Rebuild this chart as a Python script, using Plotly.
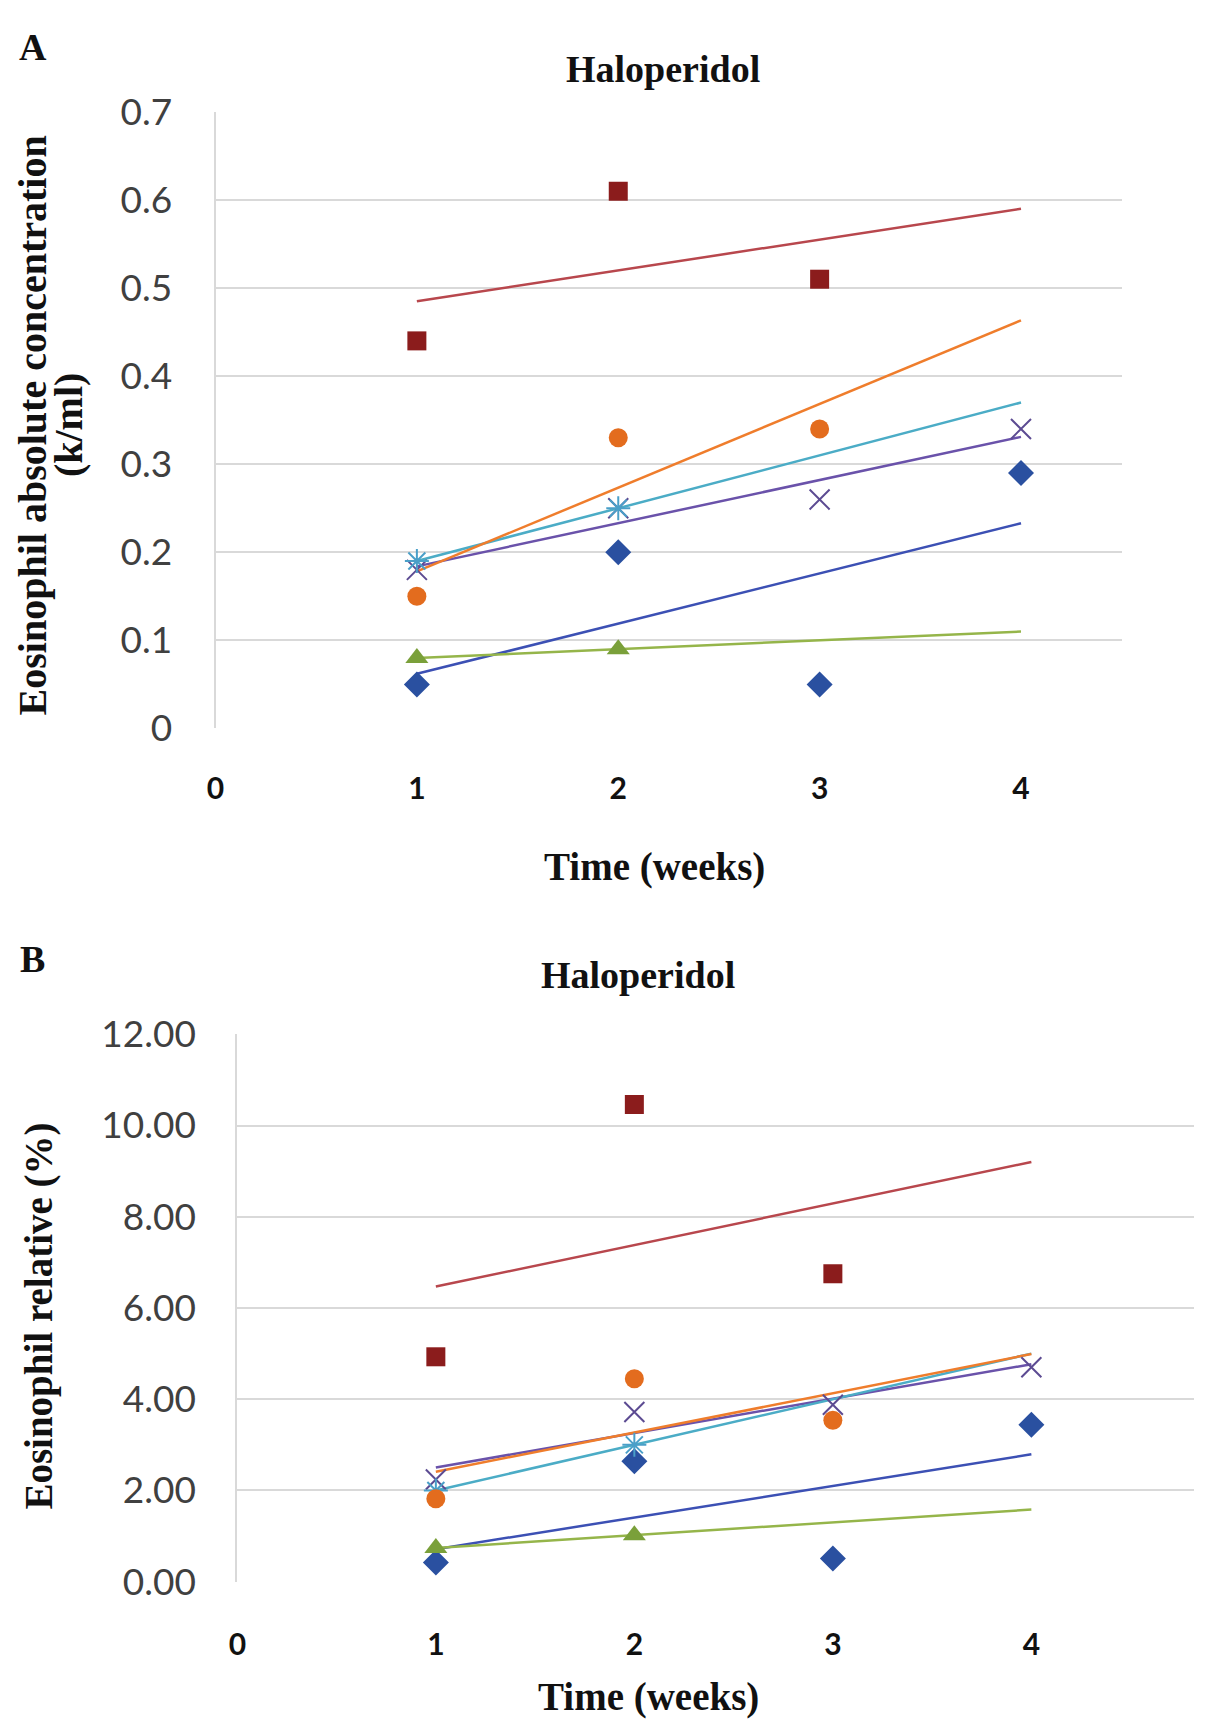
import numpy as np
import plotly.graph_objects as go

# ---------------- data ----------------
weeks = [1, 2, 3, 4]
x_ticks = [0, 1, 2, 3, 4]

# Panel A: absolute concentration (k/ml)
a_blue = [0.05, 0.20, 0.05, 0.29]
a_red = [0.44, 0.61, 0.51]
a_green = [0.08, 0.09]
a_purple = [0.18, 0.25, 0.26, 0.34]
a_cyan = [0.19, 0.25]
a_orange = [0.15, 0.33, 0.34]

# Panel B: relative (%)
b_blue = [0.42, 2.64, 0.51, 3.44]
b_red = [4.93, 10.46, 6.75]
b_green = [0.74, 1.02]
b_purple = [2.24, 3.72, 3.88, 4.70]
b_cyan = [2.0, 3.0]
b_orange = [1.82, 4.45, 3.54]

a_yticks = [0, 0.1, 0.2, 0.3, 0.4, 0.5, 0.6, 0.7]
b_yticks = [0, 2, 4, 6, 8, 10, 12]

# ---------------- styles ----------------
styles = {
    "blue":   dict(marker="#2a50a0", line="#3c50b4", symbol="diamond", size=20, open=False),
    "red":    dict(marker="#8b1c1c", line="#b8474d", symbol="square", size=19, open=False),
    "green":  dict(marker="#7aa03a", line="#95b54a", symbol="triangle-up", size=20, open=False),
    "purple": dict(marker="#5c4b92", line="#6a52aa", symbol="x-thin-open", size=20, open=True),
    "cyan":   dict(marker="#4a9fc8", line="#4bacc6", symbol="asterisk-open", size=20, open=True),
    "orange": dict(marker="#e36c1e", line="#ef7d2c", symbol="circle", size=19, open=False),
}

W, H = 1205, 1733
fig = go.Figure()


def add_panel(series, xa, ya):
    # linear trendlines (least squares over the available weeks, drawn weeks 1-4)
    for name, vals in series:
        st = styles[name]
        xs = weeks[:len(vals)]
        slope, icpt = np.polyfit(xs, vals, 1)
        tx = [weeks[0], weeks[-1]]
        ty = [icpt + slope * v for v in tx]
        fig.add_trace(go.Scatter(x=tx, y=ty, mode="lines", xaxis=xa, yaxis=ya,
                                 line=dict(color=st["line"], width=2.5),
                                 showlegend=False, hoverinfo="skip"))
    for name, vals in series:
        st = styles[name]
        xs = weeks[:len(vals)]
        mk = dict(symbol=st["symbol"], size=st["size"], color=st["marker"])
        if st["open"]:
            mk["line"] = dict(color=st["marker"], width=2)
        else:
            mk["line"] = dict(width=0)
        fig.add_trace(go.Scatter(x=xs, y=vals, mode="markers", xaxis=xa, yaxis=ya,
                                 marker=mk, showlegend=False))


add_panel([("blue", a_blue), ("red", a_red), ("green", a_green),
           ("purple", a_purple), ("cyan", a_cyan), ("orange", a_orange)], "x", "y")
add_panel([("blue", b_blue), ("red", b_red), ("green", b_green),
           ("purple", b_purple), ("cyan", b_cyan), ("orange", b_orange)], "x2", "y2")


def px_x(p):
    return p / W


def px_y(p):
    return 1 - p / H


grid = "#d9d9d9"
tickfont_y = dict(family="Lato, Open Sans, sans-serif", size=37, color="#404040")
tickfont_x = dict(family="Lato, Open Sans, sans-serif", size=30, color="#111111", weight="bold")
serif = "Liberation Serif, Times New Roman, serif"

fig.update_layout(
    width=W, height=H,
    margin=dict(l=0, r=0, t=0, b=0),
    paper_bgcolor="white", plot_bgcolor="white",
    xaxis=dict(domain=[px_x(200), px_x(1113)], range=[0, 4.5], tickvals=x_ticks,
               showgrid=False, zeroline=False, showline=False, ticks="",
               tickfont=tickfont_x, anchor="y", ticklabelstandoff=40),
    yaxis=dict(domain=[px_y(715), px_y(82)], range=[0, 0.7], tickvals=a_yticks,
               showgrid=True, gridcolor=grid, gridwidth=2, zeroline=False,
               showline=True, linecolor=grid, linewidth=2, ticks="",
               tickfont=tickfont_y, anchor="x", ticklabelstandoff=34),
    xaxis2=dict(domain=[px_x(222), px_x(1186)], range=[0, 4.82], tickvals=x_ticks,
                showgrid=False, zeroline=False, showline=False, ticks="",
                tickfont=tickfont_x, anchor="y2", ticklabelstandoff=42),
    yaxis2=dict(domain=[px_y(1591), px_y(1029)], range=[0, 12], tickvals=b_yticks,
                tickformat=".2f",
                showgrid=True, gridcolor=grid, gridwidth=2, zeroline=False,
                showline=True, linecolor=grid, linewidth=2, ticks="",
                tickfont=tickfont_y, anchor="x2", ticklabelstandoff=32),
)

anns = [
    dict(text="<b>A</b>", x=px_x(16), y=px_y(-8), size=38, yanchor="top"),
    dict(text="<b>B</b>", x=px_x(16), y=px_y(952), size=38),
    dict(text="<b>Haloperidol</b>", x=px_x(651), y=px_y(38), size=38),
    dict(text="<b>Haloperidol</b>", x=px_x(626), y=px_y(968), size=38),
    dict(text="<b>Time (weeks)</b>", x=px_x(642), y=px_y(857), size=39),
    dict(text="<b>Time (weeks)</b>", x=px_x(636), y=px_y(1709), size=39),
    dict(text="<b>Eosinophil absolute concentration</b>", x=px_x(16), y=px_y(404),
         size=40, angle=-90),
    dict(text="<b>(k/ml)</b>", x=px_x(52), y=px_y(404), size=40, angle=-90),
    dict(text="<b>Eosinophil relative (%)</b>", x=px_x(22), y=px_y(1318), size=39, angle=-90),
]
for a in anns:
    fig.add_annotation(text=a["text"], x=a["x"], y=a["y"], xref="paper", yref="paper",
                       showarrow=False, xanchor="center", yanchor=a.get("yanchor", "middle"),
                       textangle=a.get("angle", 0),
                       font=dict(family=serif, size=a["size"], color="#111111"))

fig.write_html("out.html")
